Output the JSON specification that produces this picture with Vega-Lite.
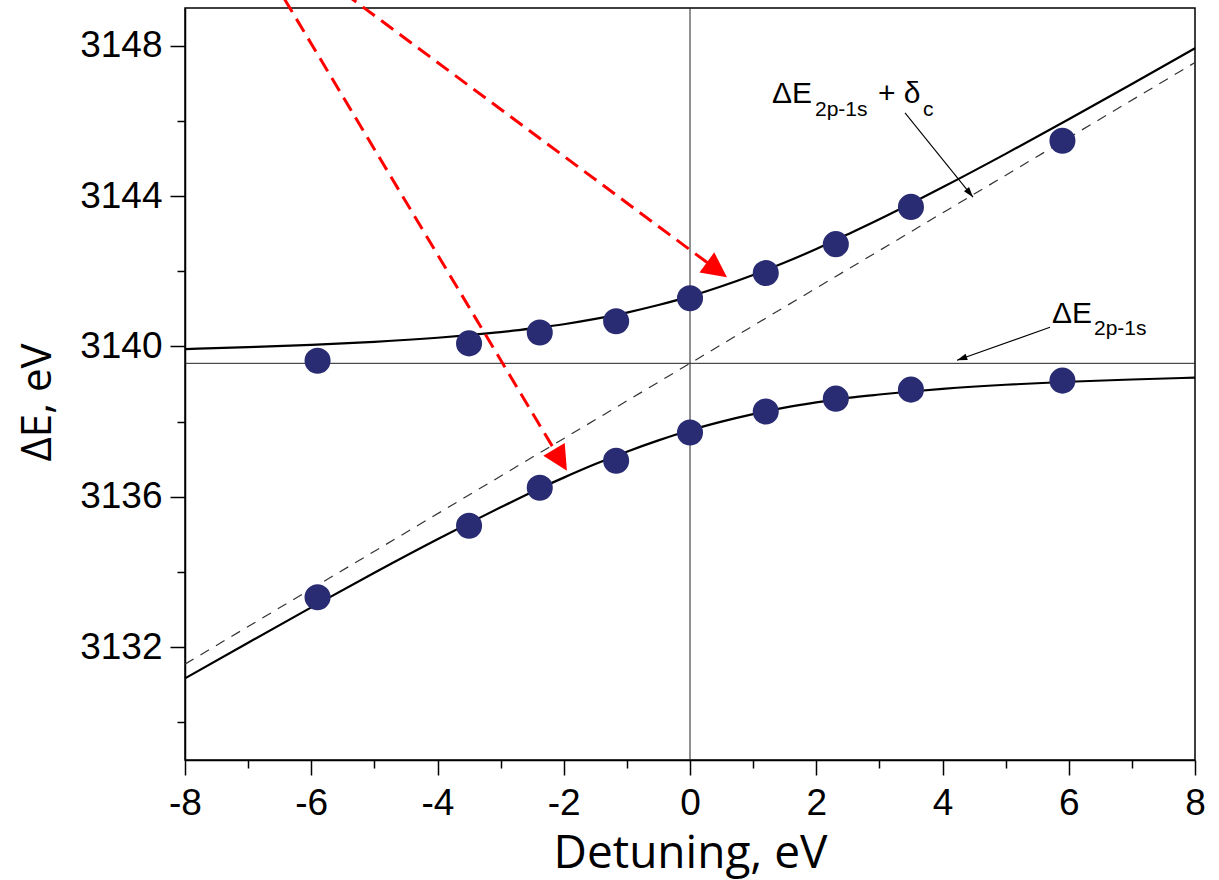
{
  "$schema": "https://vega.github.io/schema/vega-lite/v6.json",
  "width": 1010,
  "height": 752,
  "autosize": {"type": "none"},
  "padding": {"left": 185, "top": 8, "right": 24, "bottom": 120},
  "background": "white",
  "config": {
    "view": {"stroke": "#000000", "strokeWidth": 1.5},
    "font": "Liberation Sans"
  },
  "datasets": {
    "points": [
      {"x": -5.9, "y": 3139.62}, {"x": -3.5, "y": 3140.08}, {"x": -2.38, "y": 3140.37},
      {"x": -1.17, "y": 3140.67}, {"x": 0, "y": 3141.28}, {"x": 1.2, "y": 3141.95},
      {"x": 2.31, "y": 3142.72}, {"x": 3.5, "y": 3143.71}, {"x": 5.9, "y": 3145.47},
      {"x": -5.9, "y": 3133.33}, {"x": -3.5, "y": 3135.23}, {"x": -2.38, "y": 3136.24},
      {"x": -1.17, "y": 3136.96}, {"x": 0, "y": 3137.71}, {"x": 1.2, "y": 3138.27},
      {"x": 2.31, "y": 3138.61}, {"x": 3.5, "y": 3138.85}, {"x": 5.9, "y": 3139.09}
    ],
    "curves": [
      {"branch": "upper", "x": -8, "y": 3139.93}, {"branch": "upper", "x": -7, "y": 3139.98},
      {"branch": "upper", "x": -6, "y": 3140.04}, {"branch": "upper", "x": -5, "y": 3140.12},
      {"branch": "upper", "x": -4, "y": 3140.23}, {"branch": "upper", "x": -3.5, "y": 3140.30},
      {"branch": "upper", "x": -3, "y": 3140.38}, {"branch": "upper", "x": -2.5, "y": 3140.48},
      {"branch": "upper", "x": -2, "y": 3140.59}, {"branch": "upper", "x": -1.5, "y": 3140.73},
      {"branch": "upper", "x": -1, "y": 3140.90}, {"branch": "upper", "x": -0.5, "y": 3141.10},
      {"branch": "upper", "x": 0, "y": 3141.33}, {"branch": "upper", "x": 0.5, "y": 3141.60},
      {"branch": "upper", "x": 1, "y": 3141.90}, {"branch": "upper", "x": 1.5, "y": 3142.23},
      {"branch": "upper", "x": 2, "y": 3142.59}, {"branch": "upper", "x": 2.5, "y": 3142.98},
      {"branch": "upper", "x": 3, "y": 3143.38}, {"branch": "upper", "x": 3.5, "y": 3143.80},
      {"branch": "upper", "x": 4, "y": 3144.23}, {"branch": "upper", "x": 5, "y": 3145.12},
      {"branch": "upper", "x": 6, "y": 3146.04}, {"branch": "upper", "x": 7, "y": 3146.98},
      {"branch": "upper", "x": 8, "y": 3147.93},
      {"branch": "lower", "x": -8, "y": 3131.17}, {"branch": "lower", "x": -7, "y": 3132.12},
      {"branch": "lower", "x": -6, "y": 3133.06}, {"branch": "lower", "x": -5, "y": 3133.98},
      {"branch": "lower", "x": -4, "y": 3134.87}, {"branch": "lower", "x": -3.5, "y": 3135.30},
      {"branch": "lower", "x": -3, "y": 3135.72}, {"branch": "lower", "x": -2.5, "y": 3136.13},
      {"branch": "lower", "x": -2, "y": 3136.51}, {"branch": "lower", "x": -1.5, "y": 3136.87},
      {"branch": "lower", "x": -1, "y": 3137.20}, {"branch": "lower", "x": -0.5, "y": 3137.50},
      {"branch": "lower", "x": 0, "y": 3137.77}, {"branch": "lower", "x": 0.5, "y": 3138.00},
      {"branch": "lower", "x": 1, "y": 3138.20}, {"branch": "lower", "x": 1.5, "y": 3138.37},
      {"branch": "lower", "x": 2, "y": 3138.51}, {"branch": "lower", "x": 2.5, "y": 3138.63},
      {"branch": "lower", "x": 3, "y": 3138.72}, {"branch": "lower", "x": 3.5, "y": 3138.80},
      {"branch": "lower", "x": 4, "y": 3138.87}, {"branch": "lower", "x": 5, "y": 3138.98},
      {"branch": "lower", "x": 6, "y": 3139.06}, {"branch": "lower", "x": 7, "y": 3139.12},
      {"branch": "lower", "x": 8, "y": 3139.17}
    ],
    "diagonal": [{"x": -8, "y": 3131.55}, {"x": 8, "y": 3147.55}],
    "refLines": [
      {"x": 0, "y": 3129, "x2": 0, "y2": 3149},
      {"x": -8, "y": 3139.55, "x2": 8, "y2": 3139.55}
    ],
    "redArrows": [
      {"x": -5.77, "y": 3149.76, "x2": 0.448, "y2": 3142.01},
      {"x": -6.61, "y": 3149.76, "x2": -2.037, "y2": 3136.94}
    ],
    "blackArrows": [
      {"x": 3.406, "y": 3146.21, "x2": 4.483, "y2": 3143.97},
      {"x": 5.703, "y": 3140.51, "x2": 4.23, "y2": 3139.63}
    ],
    "headRed1": [{"x": 0.586, "y": 3141.84}],
    "headRed2": [{"x": -1.95, "y": 3136.69}],
    "headBlack1": [{"x": 4.483, "y": 3143.97}],
    "headBlack2": [{"x": 4.23, "y": 3139.63}],
    "annMain": [
      {"x": 1.299, "y": 3146.47, "text": "ΔE"},
      {"x": 2.978, "y": 3146.47, "text": "+ δ"},
      {"x": 5.735, "y": 3140.61, "text": "ΔE"}
    ],
    "annSub": [
      {"x": 1.98, "y": 3146.13, "text": "2p-1s"},
      {"x": 3.691, "y": 3146.13, "text": "c"},
      {"x": 6.40, "y": 3140.29, "text": "2p-1s"}
    ]
  },
  "encoding": {
    "x": {
      "field": "x", "type": "quantitative",
      "scale": {"domain": [-8, 8], "nice": false, "zero": false},
      "axis": {
        "values": [-8, -7, -6, -5, -4, -3, -2, -1, 0, 1, 2, 3, 4, 5, 6, 7, 8],
        "labelExpr": "datum.value % 2 === 0 ? '' + datum.value : ''",
        "tickSize": {"condition": {"test": "datum.value % 2 === 0", "value": 15}, "value": 8},
        "tickColor": "#000000",
        "tickWidth": 1.5,
        "domainColor": "#000000",
        "domainWidth": 1.5,
        "grid": false,
        "labelFont": "Liberation Sans",
        "labelFontSize": 37,
        "labelColor": "#000000",
        "labelPadding": 10,
        "labelFlush": false,
        "labelOverlap": false,
        "title": "Detuning, eV",
        "titleFont": "Open Sans",
        "titleFontSize": 46,
        "titleFontWeight": "normal",
        "titleColor": "#000000",
        "titlePadding": 10
      }
    },
    "y": {
      "field": "y", "type": "quantitative",
      "scale": {"domain": [3129, 3149], "nice": false, "zero": false},
      "axis": {
        "values": [3130, 3132, 3134, 3136, 3138, 3140, 3142, 3144, 3146, 3148],
        "labelExpr": "datum.value % 4 === 0 ? '' + datum.value : ''",
        "tickSize": {"condition": {"test": "datum.value % 4 === 0", "value": 15}, "value": 8},
        "tickColor": "#000000",
        "tickWidth": 1.5,
        "domainColor": "#000000",
        "domainWidth": 1.5,
        "grid": false,
        "labelFont": "Liberation Sans",
        "labelFontSize": 37,
        "labelColor": "#000000",
        "labelPadding": 8,
        "labelFlush": false,
        "labelOverlap": false,
        "title": "ΔE, eV",
        "titleFont": "Open Sans",
        "titleFontSize": 42,
        "titleFontWeight": "normal",
        "titleColor": "#000000",
        "titlePadding": 20,
        "titleY": 394
      }
    }
  },
  "layer": [
    {
      "data": {"name": "refLines"},
      "mark": {"type": "rule", "color": "#222222", "strokeWidth": 1},
      "encoding": {"x2": {"field": "x2"}, "y2": {"field": "y2"}}
    },
    {
      "data": {"name": "diagonal"},
      "mark": {"type": "line", "color": "#333333", "strokeWidth": 1.2, "strokeDash": [10, 8]},
      "encoding": {}
    },
    {
      "data": {"name": "curves"},
      "mark": {"type": "line", "color": "#000000", "strokeWidth": 2.2, "interpolate": "monotone"},
      "encoding": {"detail": {"field": "branch", "type": "nominal"}}
    },
    {
      "data": {"name": "points"},
      "mark": {"type": "point", "shape": "circle", "filled": true, "size": 680, "color": "#292c72", "opacity": 1},
      "encoding": {}
    },
    {
      "data": {"name": "blackArrows"},
      "mark": {"type": "rule", "color": "#000000", "strokeWidth": 1.1},
      "encoding": {"x2": {"field": "x2"}, "y2": {"field": "y2"}}
    },
    {
      "data": {"name": "headBlack1"},
      "mark": {"type": "point", "shape": "M0,0L-1,-0.32L-1,0.32Z", "filled": true, "size": 420, "color": "#000000", "opacity": 1, "angle": 51},
      "encoding": {}
    },
    {
      "data": {"name": "headBlack2"},
      "mark": {"type": "point", "shape": "M0,0L-1,-0.32L-1,0.32Z", "filled": true, "size": 420, "color": "#000000", "opacity": 1, "angle": 160.5},
      "encoding": {}
    },
    {
      "data": {"name": "redArrows"},
      "mark": {"type": "rule", "color": "#ff0000", "strokeWidth": 3, "strokeDash": [15, 8]},
      "encoding": {"x2": {"field": "x2"}, "y2": {"field": "y2"}}
    },
    {
      "data": {"name": "headRed1"},
      "mark": {"type": "point", "shape": "M0,0L-1,-0.5L-1,0.5Z", "filled": true, "size": 2500, "color": "#ff0000", "opacity": 1, "angle": 36.3},
      "encoding": {}
    },
    {
      "data": {"name": "headRed2"},
      "mark": {"type": "point", "shape": "M0,0L-1,-0.5L-1,0.5Z", "filled": true, "size": 2500, "color": "#ff0000", "opacity": 1, "angle": 59},
      "encoding": {}
    },
    {
      "data": {"name": "annMain"},
      "mark": {"type": "text", "align": "left", "baseline": "alphabetic", "font": "Liberation Sans", "fontSize": 30, "color": "#000000"},
      "encoding": {"text": {"field": "text"}}
    },
    {
      "data": {"name": "annSub"},
      "mark": {"type": "text", "align": "left", "baseline": "alphabetic", "font": "Liberation Sans", "fontSize": 21, "color": "#000000"},
      "encoding": {"text": {"field": "text"}}
    }
  ]
}
